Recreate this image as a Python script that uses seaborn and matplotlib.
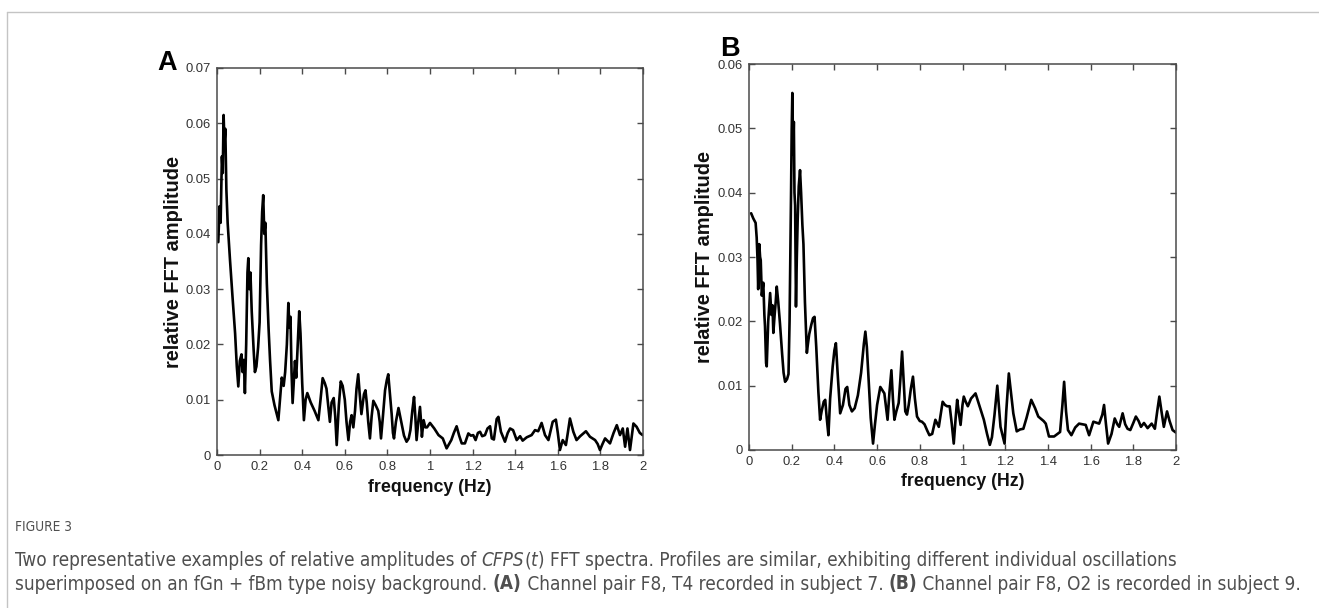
import os
import numpy as np
import pandas as pd
import matplotlib
matplotlib.use("Agg")
import matplotlib.pyplot as plt
from matplotlib import font_manager as fm
from matplotlib.lines import Line2D
import seaborn as sns

# ---------------- data ----------------
freq_a = [0.006, 0.012, 0.017, 0.023, 0.027, 0.031, 0.035, 0.039, 0.044, 0.050,
          0.061, 0.073, 0.085, 0.093, 0.100, 0.107, 0.115, 0.120, 0.126, 0.131,
          0.137, 0.143, 0.147, 0.152, 0.157, 0.163, 0.172, 0.178, 0.185, 0.193,
          0.200, 0.207, 0.212, 0.217, 0.222, 0.227, 0.234, 0.242, 0.249, 0.257,
          0.270, 0.288, 0.298, 0.304, 0.313, 0.320, 0.328, 0.335, 0.340, 0.345,
          0.350, 0.355, 0.360, 0.366, 0.372, 0.380, 0.386, 0.392, 0.400, 0.408,
          0.416, 0.424, 0.440, 0.458, 0.476, 0.486, 0.496, 0.506, 0.514, 0.522,
          0.530, 0.538, 0.548, 0.555, 0.562, 0.572, 0.581, 0.590, 0.600, 0.608,
          0.617, 0.625, 0.632, 0.640, 0.648, 0.655, 0.663, 0.670, 0.678, 0.690,
          0.697, 0.703, 0.710, 0.718, 0.726, 0.734, 0.745, 0.757, 0.764, 0.770,
          0.779, 0.789, 0.797, 0.804, 0.812, 0.820, 0.826, 0.831, 0.840, 0.852,
          0.865, 0.878, 0.890, 0.900, 0.908, 0.917, 0.925, 0.931, 0.937, 0.945,
          0.953, 0.958, 0.962, 0.970, 0.978, 0.986, 1.000, 1.020, 1.040, 1.060,
          1.078, 1.090, 1.100, 1.112, 1.125, 1.137, 1.149, 1.164, 1.180, 1.192,
          1.203, 1.214, 1.225, 1.235, 1.245, 1.258, 1.270, 1.282, 1.290, 1.300,
          1.313, 1.321, 1.333, 1.352, 1.365, 1.376, 1.390, 1.407, 1.423, 1.435,
          1.454, 1.477, 1.493, 1.508, 1.524, 1.540, 1.556, 1.576, 1.591, 1.600,
          1.610, 1.623, 1.638, 1.647, 1.657, 1.673, 1.688, 1.705, 1.732, 1.751,
          1.775, 1.787, 1.798, 1.810, 1.822, 1.845, 1.862, 1.877, 1.892, 1.905,
          1.916, 1.927, 1.939, 1.955, 1.970, 1.985, 1.998]
amp_a = [0.0385, 0.0450, 0.0420, 0.0540, 0.0510, 0.0615, 0.0565, 0.0590, 0.0480, 0.0420,
         0.0353, 0.0285, 0.0220, 0.0160, 0.0124, 0.0170, 0.0182, 0.0150, 0.0172, 0.0112,
         0.0200, 0.0330, 0.0356, 0.0300, 0.0330, 0.0260, 0.0190, 0.0150, 0.0160, 0.0195,
         0.0240, 0.0380, 0.0440, 0.0470, 0.0400, 0.0420, 0.0310, 0.0230, 0.0172, 0.0115,
         0.0090, 0.0063, 0.0110, 0.0140, 0.0125, 0.0150, 0.0200, 0.0275, 0.0230, 0.0250,
         0.0150, 0.0094, 0.0130, 0.0170, 0.0140, 0.0210, 0.0260, 0.0220, 0.0130, 0.0063,
         0.0100, 0.0112, 0.0095, 0.0080, 0.0063, 0.0100, 0.0139, 0.0130, 0.0120, 0.0090,
         0.0060, 0.0095, 0.0103, 0.0070, 0.0018, 0.0090, 0.0133, 0.0125, 0.0100, 0.0060,
         0.0027, 0.0060, 0.0072, 0.0050, 0.0080, 0.0120, 0.0146, 0.0110, 0.0074, 0.0110,
         0.0117, 0.0095, 0.0060, 0.0030, 0.0070, 0.0098, 0.0090, 0.0080, 0.0060, 0.0030,
         0.0070, 0.0117, 0.0135, 0.0146, 0.0110, 0.0074, 0.0040, 0.0030, 0.0060, 0.0085,
         0.0060, 0.0035, 0.0024, 0.0030, 0.0045, 0.0080, 0.0105, 0.0070, 0.0027, 0.0060,
         0.0087, 0.0060, 0.0033, 0.0063, 0.0050, 0.0050, 0.0058, 0.0048, 0.0036, 0.0030,
         0.0012, 0.0020, 0.0027, 0.0040, 0.0052, 0.0035, 0.0021, 0.0021, 0.0039, 0.0035,
         0.0036, 0.0027, 0.0040, 0.0042, 0.0034, 0.0036, 0.0048, 0.0052, 0.0030, 0.0028,
         0.0065, 0.0069, 0.0042, 0.0024, 0.0040, 0.0048, 0.0045, 0.0027, 0.0034, 0.0026,
         0.0032, 0.0036, 0.0045, 0.0043, 0.0058, 0.0036, 0.0027, 0.0060, 0.0064, 0.0040,
         0.0009, 0.0027, 0.0018, 0.0040, 0.0066, 0.0042, 0.0027, 0.0034, 0.0043, 0.0033,
         0.0027, 0.0020, 0.0009, 0.0020, 0.0030, 0.0021, 0.0040, 0.0054, 0.0036, 0.0048,
         0.0015, 0.0048, 0.0009, 0.0057, 0.0051, 0.0040, 0.0036]

freq_b = [0.010, 0.020, 0.031, 0.036, 0.040, 0.043, 0.048, 0.052, 0.055, 0.060,
          0.067, 0.072, 0.075, 0.080, 0.083, 0.090, 0.099, 0.105, 0.110, 0.114,
          0.120, 0.125, 0.130, 0.137, 0.145, 0.155, 0.162, 0.169, 0.178, 0.185,
          0.190, 0.193, 0.197, 0.200, 0.203, 0.207, 0.210, 0.213, 0.216, 0.220,
          0.224, 0.228, 0.233, 0.239, 0.244, 0.250, 0.255, 0.262, 0.271, 0.276,
          0.282, 0.292, 0.300, 0.307, 0.315, 0.325, 0.333, 0.340, 0.350, 0.357,
          0.364, 0.372, 0.380, 0.392, 0.400, 0.407, 0.415, 0.427, 0.440, 0.452,
          0.460, 0.470, 0.482, 0.495, 0.510, 0.525, 0.538, 0.545, 0.552, 0.560,
          0.570, 0.581, 0.590, 0.600, 0.615, 0.634, 0.649, 0.658, 0.667, 0.674,
          0.681, 0.690, 0.701, 0.709, 0.717, 0.724, 0.732, 0.740, 0.748, 0.758,
          0.768, 0.777, 0.787, 0.800, 0.810, 0.822, 0.835, 0.845, 0.858, 0.873,
          0.889, 0.900, 0.907, 0.918, 0.928, 0.940, 0.950, 0.959, 0.968, 0.975,
          0.982, 0.991, 1.000, 1.006, 1.015, 1.025, 1.040, 1.061, 1.080, 1.100,
          1.115, 1.128, 1.138, 1.150, 1.163, 1.170, 1.178, 1.190, 1.197, 1.205,
          1.217, 1.225, 1.238, 1.254, 1.270, 1.285, 1.300, 1.322, 1.340, 1.355,
          1.366, 1.380, 1.390, 1.405, 1.429, 1.457, 1.468, 1.476, 1.485, 1.494,
          1.510, 1.528, 1.546, 1.562, 1.577, 1.593, 1.613, 1.640, 1.655, 1.663,
          1.672, 1.682, 1.698, 1.713, 1.725, 1.734, 1.750, 1.762, 1.773, 1.786,
          1.800, 1.812, 1.825, 1.836, 1.850, 1.867, 1.886, 1.901, 1.912, 1.922,
          1.932, 1.943, 1.958, 1.970, 1.984, 2.000]
amp_b = [0.0368, 0.0360, 0.0353, 0.0330, 0.0295, 0.0250, 0.0320, 0.0300, 0.0295, 0.0240,
         0.0260, 0.0210, 0.0192, 0.0135, 0.0130, 0.0200, 0.0244, 0.0210, 0.0225, 0.0182,
         0.0210, 0.0230, 0.0254, 0.0230, 0.0197, 0.0150, 0.0120, 0.0106, 0.0110, 0.0118,
         0.0200, 0.0280, 0.0400, 0.0498, 0.0555, 0.0460, 0.0510, 0.0400, 0.0380, 0.0223,
         0.0300, 0.0358, 0.0410, 0.0435, 0.0400, 0.0350, 0.0320, 0.0230, 0.0151, 0.0165,
         0.0180, 0.0195, 0.0205, 0.0207, 0.0160, 0.0090, 0.0047, 0.0060, 0.0075, 0.0078,
         0.0050, 0.0023, 0.0080, 0.0130, 0.0155, 0.0166, 0.0120, 0.0057, 0.0070, 0.0095,
         0.0098, 0.0070, 0.0060, 0.0065, 0.0085, 0.0120, 0.0165, 0.0184, 0.0160, 0.0110,
         0.0050, 0.0010, 0.0040, 0.0070, 0.0098, 0.0088, 0.0047, 0.0090, 0.0124, 0.0080,
         0.0047, 0.0060, 0.0073, 0.0110, 0.0153, 0.0110, 0.0060, 0.0055, 0.0070, 0.0095,
         0.0114, 0.0080, 0.0052, 0.0045, 0.0044, 0.0040, 0.0030, 0.0023, 0.0025, 0.0047,
         0.0036, 0.0060, 0.0075, 0.0070, 0.0068, 0.0068, 0.0040, 0.0010, 0.0050, 0.0078,
         0.0060, 0.0039, 0.0070, 0.0083, 0.0075, 0.0068, 0.0080, 0.0088, 0.0068, 0.0047,
         0.0025, 0.0008, 0.0020, 0.0055, 0.0100, 0.0070, 0.0036, 0.0020, 0.0010, 0.0060,
         0.0119, 0.0095, 0.0057, 0.0029, 0.0032, 0.0033, 0.0050, 0.0078, 0.0065, 0.0052,
         0.0049, 0.0045, 0.0041, 0.0021, 0.0021, 0.0028, 0.0070, 0.0106, 0.0060, 0.0031,
         0.0023, 0.0035, 0.0041, 0.0040, 0.0039, 0.0023, 0.0044, 0.0041, 0.0055, 0.0070,
         0.0040, 0.0010, 0.0025, 0.0049, 0.0040, 0.0036, 0.0057, 0.0040, 0.0033, 0.0031,
         0.0042, 0.0052, 0.0045, 0.0036, 0.0042, 0.0034, 0.0041, 0.0033, 0.0060, 0.0083,
         0.0060, 0.0036, 0.0060, 0.0045, 0.0031, 0.0027]

xticks = [0, 0.2, 0.4, 0.6, 0.8, 1, 1.2, 1.4, 1.6, 1.8, 2]
xtick_labels = ["0", "0.2", "0.4", "0.6", "0.8", "1", "1.2", "1.4", "1.6", "1.8", "2"]
yticks_a = [0, 0.01, 0.02, 0.03, 0.04, 0.05, 0.06, 0.07]
ytick_labels_a = ["0", "0.01", "0.02", "0.03", "0.04", "0.05", "0.06", "0.07"]
yticks_b = [0, 0.01, 0.02, 0.03, 0.04, 0.05, 0.06]
ytick_labels_b = ["0", "0.01", "0.02", "0.03", "0.04", "0.05", "0.06"]
panel_letters = ["A", "B"]
xlabel_text = "frequency (Hz)"
ylabel_text = "relative FFT amplitude"

caption_title = "FIGURE 3"
caption_line1 = [("Two representative examples of relative amplitudes of ", "r"),
                 ("CFPS", "i"), ("(", "r"), ("t", "i"),
                 (") FFT spectra. Profiles are similar, exhibiting different individual oscillations", "r")]
caption_line2 = [("superimposed on an fGn + fBm type noisy background. ", "r"), ("(A)", "b"),
                 (" Channel pair F8, T4 recorded in subject 7. ", "r"), ("(B)", "b"),
                 (" Channel pair F8, O2 is recorded in subject 9.", "r")]

# ---------------- fonts ----------------
sns.set_style("white")
plt.rcParams["font.family"] = ["Liberation Sans", "DejaVu Sans"]


def find_narrow(bold=False, italic=False):
    cands = []
    for f in fm.fontManager.ttflist:
        b = os.path.basename(f.fname).lower()
        if not ("narrow" in b or "condensed" in b):
            continue
        if any(k in b for k in ("semi", "light", "extra", "black", "medium", "thin")):
            continue
        is_b = "bold" in b
        is_i = ("italic" in b) or ("oblique" in b)
        if is_b != bold or is_i != italic:
            continue
        pr = 0 if "liberation" in b else (1 if "dejavu" in b else 2)
        cands.append((pr, f.fname))
    cands.sort()
    return cands[0][1] if cands else None


NARROW = {(b, i): find_narrow(b, i) for b in (False, True) for i in (False, True)}


def fprop(size, bold=False, italic=False, narrow=True):
    fn = NARROW.get((bold, italic)) if narrow else None
    if fn:
        return fm.FontProperties(fname=fn, size=size)
    return fm.FontProperties(family=["Liberation Sans", "DejaVu Sans"],
                             weight="bold" if bold else "normal",
                             style="italic" if italic else "normal", size=size)


W, H = 1319, 608
fig = plt.figure(figsize=(W / 100, H / 100), dpi=100)
fig.patch.set_facecolor("white")

# figure frame (top and left border line)
fig.add_artist(Line2D([6.5 / W, 1.0], [1 - 11.5 / H, 1 - 11.5 / H], transform=fig.transFigure,
                      color="#c4c4c4", lw=1.0))
fig.add_artist(Line2D([6.5 / W, 6.5 / W], [0.0, 1 - 11.5 / H], transform=fig.transFigure,
                      color="#c4c4c4", lw=1.0))

panels = [
    dict(freq=freq_a, amp=amp_a, rect=(217, 68, 643, 455), yt=yticks_a, ytl=ytick_labels_a,
         ymax=0.07, letter=(157, 70), ylab_x=174, xlab_y=487),
    dict(freq=freq_b, amp=amp_b, rect=(749, 64, 1176, 450), yt=yticks_b, ytl=ytick_labels_b,
         ymax=0.06, letter=(720, 56), ylab_x=705, xlab_y=482),
]

tick_fp = fprop(9.4, narrow=False)
xlab_fp = fprop(12.8, bold=True, narrow=False)
ylab_fp = fprop(14.4, bold=True, narrow=False)
letter_fp = fprop(19.5, bold=True, narrow=False)
spine_col = "#4a4a4a"

for i, p in enumerate(panels):
    l, t, r, b = p["rect"]
    ax = fig.add_axes([l / W, 1 - b / H, (r - l) / W, (b - t) / H])
    df = pd.DataFrame({"frequency": p["freq"], "amplitude": p["amp"]})
    sns.lineplot(data=df, x="frequency", y="amplitude", ax=ax, color="black",
                 linewidth=1.9, estimator=None, sort=False)
    ax.set_xlim(0, 2)
    ax.set_ylim(0, p["ymax"])
    ax.set_xticks(xticks)
    ax.set_xticklabels(xtick_labels)
    ax.set_yticks(p["yt"])
    ax.set_yticklabels(p["ytl"])
    for lab in ax.get_xticklabels() + ax.get_yticklabels():
        lab.set_fontproperties(tick_fp)
        lab.set_color("#333333")
    ax.tick_params(axis="both", direction="in", length=4, width=1.0, color=spine_col,
                   top=True, right=True, left=True, bottom=True)
    ax.tick_params(axis="x", pad=4.5)
    ax.tick_params(axis="y", pad=4.5)
    for s in ax.spines.values():
        s.set_visible(True)
        s.set_color(spine_col)
        s.set_linewidth(1.1)
    ax.grid(False)
    ax.set_xlabel(xlabel_text, fontproperties=xlab_fp, color="#111111")
    ax.xaxis.label.set_va("center")
    ax.xaxis.set_label_coords(0.5, (b - p["xlab_y"]) / (b - t))
    ax.set_ylabel(ylabel_text, fontproperties=ylab_fp, color="#111111")
    ax.yaxis.label.set_va("center")
    ax.yaxis.set_label_coords((p["ylab_x"] - l) / (r - l), 0.5)
    lx, ly = p["letter"]
    fig.text(lx / W, 1 - ly / H, panel_letters[i], fontproperties=letter_fp,
             color="black", ha="left", va="baseline")

# ---------------- caption ----------------
cap_col = "#4f4f4f"
renderer = fig.canvas.get_renderer()


def seg_fp(style, size):
    return fprop(size, bold=(style == "b"), italic=(style == "i"), narrow=True)


def advance(txt, fp):
    a = fig.text(0, 0, "|" + txt + "|", fontproperties=fp)
    w1 = a.get_window_extent(renderer).width
    a.remove()
    a = fig.text(0, 0, "||", fontproperties=fp)
    w0 = a.get_window_extent(renderer).width
    a.remove()
    return w1 - w0


def line_width(segs, size):
    return sum(advance(tx, seg_fp(st, size)) for tx, st in segs)


def draw_line(segs, size, x0, yc):
    x = x0
    for tx, st in segs:
        fp = seg_fp(st, size)
        fig.text(x / W, 1 - yc / H, tx, fontproperties=fp, color=cap_col,
                 ha="left", va="center")
        x += advance(tx, fp)


base = 12.0
w_base = line_width(caption_line2, base)
cap_size = base * (1306 - 15) / w_base

fig.text(15 / W, 1 - 527 / H, caption_title, fontproperties=fprop(cap_size * 0.72),
         color=cap_col, ha="left", va="center")
draw_line(caption_line1, cap_size, 15, 561)
draw_line(caption_line2, cap_size, 15, 584)

fig.savefig("out.png", dpi=100, facecolor="white")
